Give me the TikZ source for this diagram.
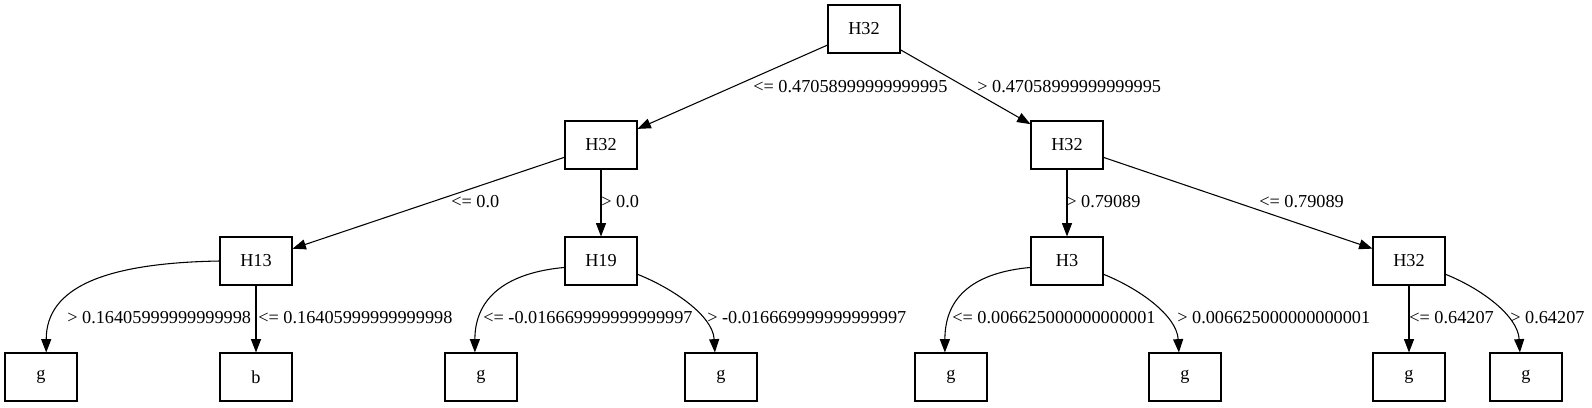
\documentclass[tikz,border=0pt]{standalone}
\usepackage{fontspec}
\setmainfont{Liberation Serif}
\usepackage{tikz}
\usetikzlibrary{arrows.meta}
\tikzstyle{line} = [draw, line width=0.8pt, -{Triangle[length=10pt,width=7.5pt]}]

\begin{document}
\begin{tikzpicture}[x=0.75pt, y=-0.75pt,
			every node/.style={font=\fontsize{13.7pt}{16pt}\selectfont},
			internal/.style={draw, rectangle, line width=0.8pt, minimum width=54pt, minimum height=36pt, inner sep=0pt},
			cond/.style={anchor=west, inner sep=0pt}]
			\useasboundingbox (0,0) rectangle (1592,407);
			
			% decision nodes
			\node[internal](node0) at (864,29) {H32};
			\node[internal](node1) at (601,145) {H32};
			\node[internal](node2) at (1067,145) {H32};
			\node[internal](node11) at (256,261) {H13};
			\node[internal](node12) at (601,261) {H19};
			\node[internal](node21) at (1067,261) {H3};
			\node[internal](node22) at (1409,261) {H32};
			
			% leaves
			\node[internal](leaf1) at (41,377) {g};
			\node[internal](leaf2) at (256,377) {b};
			\node[internal](leaf3) at (481,377) {g};
			\node[internal](leaf4) at (721,377) {g};
			\node[internal](leaf5) at (951,377) {g};
			\node[internal](leaf6) at (1185,377) {g};
			\node[internal](leaf7) at (1409,377) {g};
			\node[internal](leaf8) at (1526,377) {g};
			
			% branch conditions
			\node[cond](label1) at (753,87) {<= 0.47058999999999995};
			\node[cond](label2) at (977,87) {> 0.47058999999999995};
			\node[cond](label11) at (451,202) {<= 0.0};
			\node[cond](label12) at (601,202) {> 0.0};
			\node[cond](label21) at (1066,202) {> 0.79089};
			\node[cond](label22) at (1259,202) {<= 0.79089};
			\node[cond](label111) at (67,318) {> 0.16405999999999998};
			\node[cond](label112) at (258,318) {<= 0.16405999999999998};
			\node[cond](label121) at (483,318) {<= -0.016669999999999997};
			\node[cond](label122) at (707,318) {> -0.016669999999999997};
			\node[cond](label211) at (952,318) {<= 0.006625000000000001};
			\node[cond](label212) at (1177,318) {> 0.006625000000000001};
			\node[cond](label221) at (1409,318) {<= 0.64207};
			\node[cond](label222) at (1510,318) {> 0.64207};
			
			\draw[line] (node0) -- (node1);
			\draw[line] (node0) -- (node2);
			\draw[line] (node1) -- (node11);
			\draw[line] (node1) -- (node12);
			\draw[line] (node2) -- (node21);
			\draw[line] (node2) -- (node22);
			
			\draw[line] (node11.west) .. controls +(-115,2) and +(0,-65) .. (leaf1.78);
			\draw[line] (node11) -- (leaf2);
			\draw[line] (node12.190) .. controls +(-55,5) and +(0,-57) .. (leaf3.104);
			\draw[line] (node12.-20) .. controls +(35,14) and +(-2,-37) .. (leaf4.104);
			\draw[line] (node21.190) .. controls +(-55,5) and +(0,-57) .. (leaf5.104);
			\draw[line] (node21.-20) .. controls +(35,14) and +(-2,-37) .. (leaf6.104);
			\draw[line] (node22) -- (leaf7);
			\draw[line] (node22.-20) .. controls +(35,14) and +(-2,-37) .. (leaf8.104);
			
		\end{tikzpicture}
\end{document}
